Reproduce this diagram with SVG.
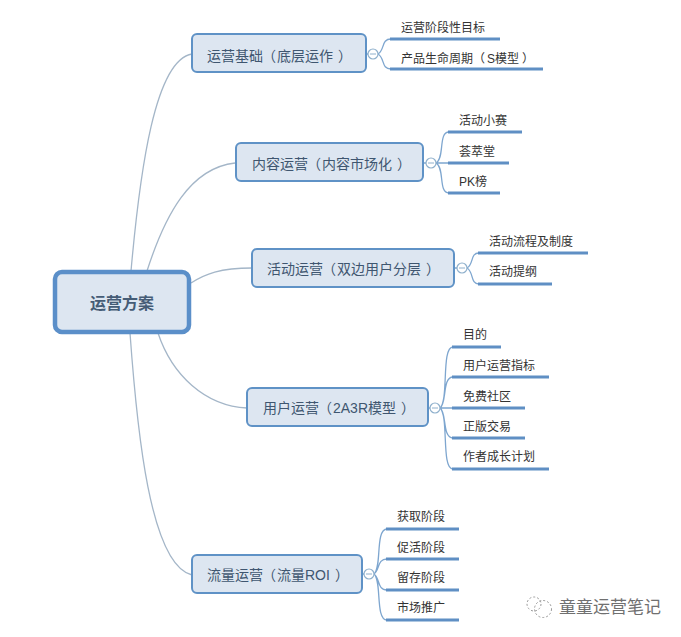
<svg xmlns="http://www.w3.org/2000/svg" width="681" height="637" viewBox="0 0 681 637">
<style>
text{font-family:"Liberation Sans","Noto Sans CJK SC",sans-serif}
.root rect{fill:#dde6f1;stroke:#5b8fc9;stroke-width:4.5}
.root text{font-size:16px;font-weight:bold;fill:#455c76}
.topic rect{fill:#dde6f1;stroke:#5f92c6;stroke-width:2}
.topic text{font-size:14px;fill:#3f5670}
.leaf text{font-size:12px;fill:#333}
.leaf line{stroke:#5f8fc4;stroke-width:3}
.main{fill:none;stroke:#a4b6c8;stroke-width:1.3}
.branch{fill:none;stroke:#7ea6cf;stroke-width:1.3}
.toggle{fill:#fff;stroke:#8fb0cc;stroke-width:1.2}
.minus{stroke:#8fb0cc;stroke-width:1}
.mark{fill:none;stroke:#999;stroke-width:1;stroke-dasharray:2 2}
</style>
<rect width="681" height="637" fill="#fff"/>
<g id="connectors">
<path class="main" d="M131 271C140 170 155 60 192 54"/>
<path class="main" d="M147 271C165 215 190 168 235 163"/>
<path class="main" d="M191 283C205 274 220 268 252 268"/>
<path class="main" d="M158 333C172 375 205 406 247 408"/>
<path class="main" d="M130 333C137 430 150 565 192 575"/>
<path class="branch" d="M366 54H368M378 54C385 50 381 39 391 39M378 54C385 58 381 69 391 69"/>
<path class="branch" d="M423 163H426M436 163C445 158 438 132 449 132M436 163H449M436 163C445 168 438 193 449 193"/>
<path class="branch" d="M454 268H457M467 268C474 264 470 253 479 253M467 268C474 272 470 284 479 284"/>
<path class="branch" d="M428 408H430M440 408C449 400 441 347 453 347M440 408C447 404 442 377 453 377M440 408H453M440 408C447 412 442 438 453 438M440 408C449 416 441 469 453 469"/>
<path class="branch" d="M362 574H364M374 574C382 568 375 529 387 529M374 574C380 570 377 559 387 559M374 574C380 578 377 590 387 590M374 574C382 580 375 620 387 620"/>
</g>
<g id="root" class="root"><rect x="55" y="272" width="134" height="60" rx="7"/><text x="90" y="309">运营方案</text></g>

<g id="topic-1" class="topic"><rect x="192" y="34" width="174" height="38" rx="5"/><text x="207" y="61">运营基础<tspan dx="-1">（</tspan><tspan dx="1">底层运作</tspan><tspan dx="5">）</tspan></text></g>
<g id="topic-2" class="topic"><rect x="236" y="143" width="187" height="38" rx="5"/><text x="252" y="169">内容运营<tspan dx="-1">（</tspan><tspan dx="1">内容市场化</tspan><tspan dx="5">）</tspan></text></g>
<g id="topic-3" class="topic"><rect x="252" y="249" width="202" height="38" rx="5"/><text x="267" y="274">活动运营<tspan dx="-1">（</tspan><tspan dx="1">双边用户分层</tspan><tspan dx="5">）</tspan></text></g>
<g id="topic-4" class="topic"><rect x="247" y="388" width="181" height="38" rx="5"/><text x="263" y="413">用户运营<tspan dx="-1">（</tspan><tspan dx="1">2A3R模型</tspan><tspan dx="5">）</tspan></text></g>
<g id="topic-5" class="topic"><rect x="192" y="555" width="170" height="38" rx="5"/><text x="207" y="580">流量运营<tspan dx="-1">（</tspan><tspan dx="1">流量ROI</tspan><tspan dx="5">）</tspan></text></g>

<g id="toggle-1"><circle class="toggle" cx="373" cy="54" r="5"/><path class="minus" d="M370 54H376"/></g>
<g id="toggle-2"><circle class="toggle" cx="431" cy="163" r="5"/><path class="minus" d="M428 163H434"/></g>
<g id="toggle-3"><circle class="toggle" cx="462" cy="268" r="5"/><path class="minus" d="M459 268H465"/></g>
<g id="toggle-4"><circle class="toggle" cx="435" cy="408" r="5"/><path class="minus" d="M432 408H438"/></g>
<g id="toggle-5"><circle class="toggle" cx="369" cy="574" r="5"/><path class="minus" d="M366 574H372"/></g>

<g id="leaf-1-1" class="leaf"><text x="401" y="32">运营阶段性目标</text><line x1="390" y1="39" x2="500" y2="39"/></g>
<g id="leaf-1-2" class="leaf"><text x="401" y="63">产品生命周期（<tspan dx="2">S模型</tspan><tspan dx="3">）</tspan></text><line x1="390" y1="69" x2="543" y2="69"/></g>

<g id="leaf-2-1" class="leaf"><text x="459" y="125">活动小赛</text><line x1="448" y1="132" x2="522" y2="132"/></g>
<g id="leaf-2-2" class="leaf"><text x="459" y="156">荟萃堂</text><line x1="448" y1="163" x2="509" y2="163"/></g>
<g id="leaf-2-3" class="leaf"><text x="459" y="186">PK榜</text><line x1="448" y1="193" x2="500" y2="193"/></g>

<g id="leaf-3-1" class="leaf"><text x="489" y="246">活动流程及制度</text><line x1="478" y1="253" x2="588" y2="253"/></g>
<g id="leaf-3-2" class="leaf"><text x="489" y="276">活动提纲</text><line x1="478" y1="284" x2="552" y2="284"/></g>

<g id="leaf-4-1" class="leaf"><text x="463" y="339">目的</text><line x1="452" y1="347" x2="501" y2="347"/></g>
<g id="leaf-4-2" class="leaf"><text x="463" y="370">用户运营指标</text><line x1="452" y1="377" x2="549" y2="377"/></g>
<g id="leaf-4-3" class="leaf"><text x="463" y="401">免费社区</text><line x1="452" y1="408" x2="525" y2="408"/></g>
<g id="leaf-4-4" class="leaf"><text x="463" y="431">正版交易</text><line x1="452" y1="438" x2="525" y2="438"/></g>
<g id="leaf-4-5" class="leaf"><text x="463" y="461">作者成长计划</text><line x1="452" y1="469" x2="549" y2="469"/></g>

<g id="leaf-5-1" class="leaf"><text x="397" y="521">获取阶段</text><line x1="386" y1="529" x2="459" y2="529"/></g>
<g id="leaf-5-2" class="leaf"><text x="397" y="552">促活阶段</text><line x1="386" y1="559" x2="459" y2="559"/></g>
<g id="leaf-5-3" class="leaf"><text x="397" y="582">留存阶段</text><line x1="386" y1="590" x2="459" y2="590"/></g>
<g id="leaf-5-4" class="leaf"><text x="397" y="612">市场推广</text><line x1="386" y1="620" x2="459" y2="620"/></g>

<g id="watermark">
<circle class="mark" cx="534" cy="604" r="7"/>
<circle class="mark" cx="543" cy="609" r="8.5"/>
<text x="559" y="613" font-size="17" fill="#707070">童童运营笔记</text>
</g>
</svg>
